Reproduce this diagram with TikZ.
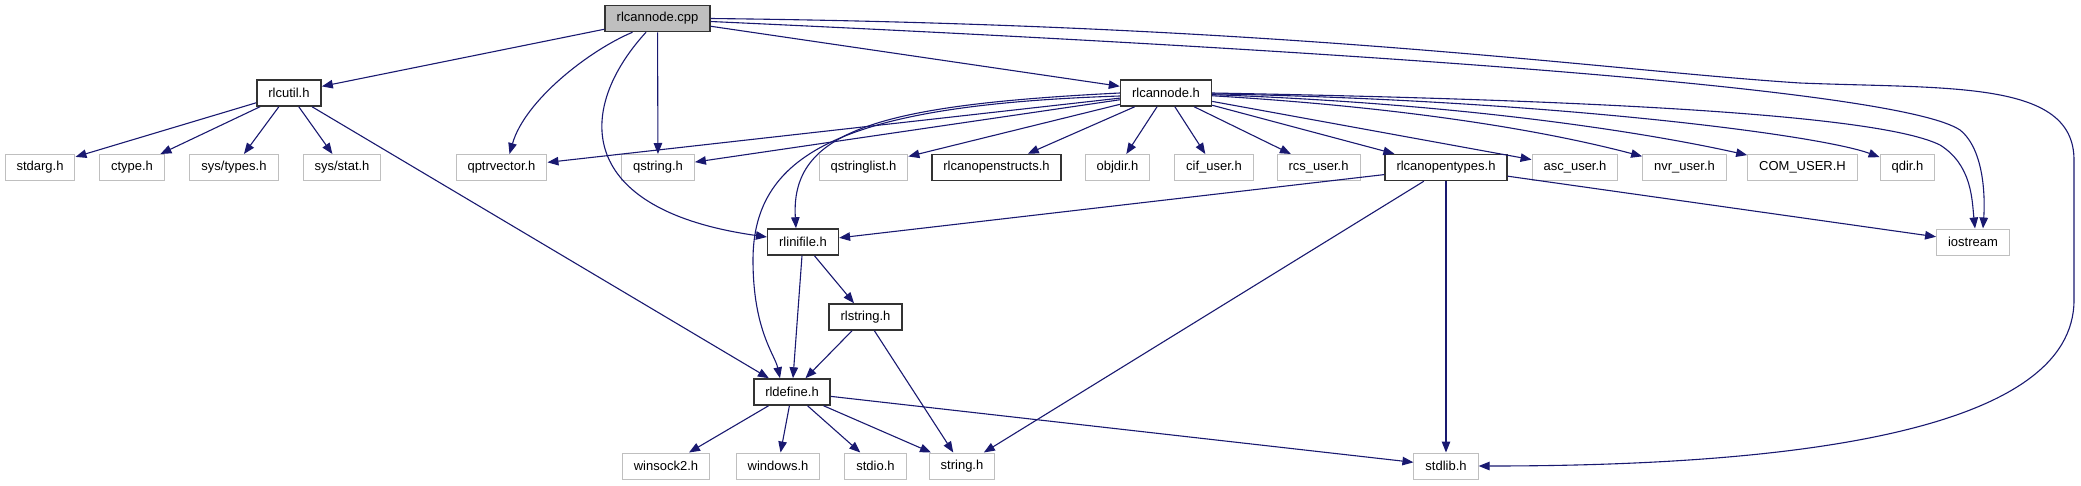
\documentclass[tikz,border=0pt]{standalone}
\usepackage{fontspec}
\setmainfont{Liberation Sans}
\usetikzlibrary{arrows.meta}
\definecolor{edgeblue}{HTML}{191970}
\definecolor{boxgray}{HTML}{BFBFBF}
\begin{document}
\begin{tikzpicture}[x=1pt, y=-1pt,
                    every node/.style={rectangle, font=\fontsize{13}{15}\selectfont, minimum height=26pt, inner xsep=11.5pt, inner ysep=0pt},
                    plainfile/.style={draw=boxgray, line width=1pt},
                    docfile/.style={draw=black!80, line width=1.5pt},
                    mainfile/.style={docfile, fill=boxgray},
                    incl/.style={draw=edgeblue, line width=1.1pt, -{Triangle[length=11pt, width=8.5pt]}}
                    ]
                    \useasboundingbox (0,0) rectangle (2081,485);

                    \node[mainfile] (rlcannodecpp) at (657.5,18.5) {rlcannode.cpp};
                    \node[docfile] (rlcutil) at (289,93) {rlcutil.h};
                    \node[docfile] (rlcannode) at (1166,93) {rlcannode.h};

                    \node[plainfile] (stdarg) at (40,167.5) {stdarg.h};
                    \node[plainfile] (ctype) at (132,167.5) {ctype.h};
                    \node[plainfile] (systypes) at (234,167.5) {sys/types.h};
                    \node[plainfile] (sysstat) at (342,167.5) {sys/stat.h};
                    \node[plainfile] (qptrvector) at (501.5,167.5) {qptrvector.h};
                    \node[plainfile] (qstring) at (658,167.5) {qstring.h};
                    \node[plainfile] (qstringlist) at (863.5,167.5) {qstringlist.h};
                    \node[docfile] (rlcanopenstructs) at (996.5,167.5) {rlcanopenstructs.h};
                    \node[plainfile] (objdir) at (1117.5,167.5) {objdir.h};
                    \node[plainfile] (cifuser) at (1214,167.5) {cif\_user.h};
                    \node[plainfile] (rcsuser) at (1318.5,167.5) {rcs\_user.h};
                    \node[docfile] (rlcanopentypes) at (1446,167.5) {rlcanopentypes.h};
                    \node[plainfile] (ascuser) at (1575,167.5) {asc\_user.h};
                    \node[plainfile] (nvruser) at (1684.5,167.5) {nvr\_user.h};
                    \node[plainfile] (comuser) at (1802.5,167.5) {COM\_USER.H};
                    \node[plainfile] (qdir) at (1907.5,167.5) {qdir.h};

                    \node[docfile] (rlinifile) at (803,242) {rlinifile.h};
                    \node[plainfile] (iostream) at (1973,242) {iostream};
                    \node[docfile] (rlstring) at (865.5,317) {rlstring.h};
                    \node[docfile] (rldefine) at (792,392) {rldefine.h};

                    \node[plainfile] (winsock) at (666,466) {winsock2.h};
                    \node[plainfile] (windows) at (778,466) {windows.h};
                    \node[plainfile] (stdio) at (875.5,466) {stdio.h};
                    \node[plainfile] (stringh) at (962,466) {string.h};
                    \node[plainfile] (stdlib) at (1446,466) {stdlib.h};

                    \foreach \i/\j in {rlcannodecpp/rlcutil, rlcannodecpp/qstring, rlcannodecpp/rlcannode,
                                       rlcutil/stdarg, rlcutil/ctype, rlcutil/systypes, rlcutil/sysstat, rlcutil/rldefine,
                                       rlcannode/qptrvector, rlcannode/qstring, rlcannode/qstringlist, rlcannode/rlcanopenstructs,
                                       rlcannode/objdir, rlcannode/cifuser, rlcannode/rcsuser, rlcannode/rlcanopentypes, rlcannode/ascuser,
                                       rlcanopentypes/rlinifile, rlcanopentypes/stringh, rlcanopentypes/stdlib, rlcanopentypes/iostream,
                                       rlinifile/rldefine, rlinifile/rlstring, rlstring/rldefine, rlstring/stringh,
                                       rldefine/winsock, rldefine/windows, rldefine/stdio, rldefine/stringh, rldefine/stdlib}{
                        \draw (\i) edge[incl] (\j);
                    }

                    % curved includes
                    \draw[incl] ([xshift=-25pt]rlcannodecpp.south) .. controls (590,50) and (525,100) .. ([xshift=8pt]qptrvector.north);
                    \draw[incl] ([xshift=-11.5pt]rlcannodecpp.south) .. controls (575,110) and (575,210) .. ([yshift=5pt]rlinifile.west);
                    \draw[incl] (rlcannodecpp.east) .. controls (1300,25) and (1600,70) .. (1800,83)
                                .. controls (1950,89) and (2074,80) .. (2074,160) -- (2074,300)
                                .. controls (2074,430) and (1800,466) .. (stdlib.east);
                    \draw[incl] ([yshift=-3pt]rlcannodecpp.east) .. controls (1400,53) and (1900,90) .. (1960,130)
                                .. controls (1985,150) and (1985,200) .. ([xshift=10pt]iostream.north);
                    \draw[incl] (rlcannode.east) .. controls (1600,100) and (1880,115) .. (1940,145)
                                .. controls (1972,165) and (1972,200) .. ([xshift=2pt]iostream.north);
                    \draw[incl] (rlcannode) .. controls (1450,110) and (1580,140) .. (nvruser);
                    \draw[incl] (rlcannode) .. controls (1500,105) and (1680,140) .. (comuser);
                    \draw[incl] (rlcannode) .. controls (1550,100) and (1820,135) .. (qdir);
                    \draw[incl] (rlcannode.west) .. controls (880,105) and (790,130) .. ([xshift=-7pt]rlinifile.north);
                    \draw[incl] ([yshift=-3pt]rlcannode.west) .. controls (850,105) and (753,150) .. (753,260)
                                .. controls (753,330) and (775,355) .. ([xshift=-12pt]rldefine.north);
                \end{tikzpicture}
\end{document}
